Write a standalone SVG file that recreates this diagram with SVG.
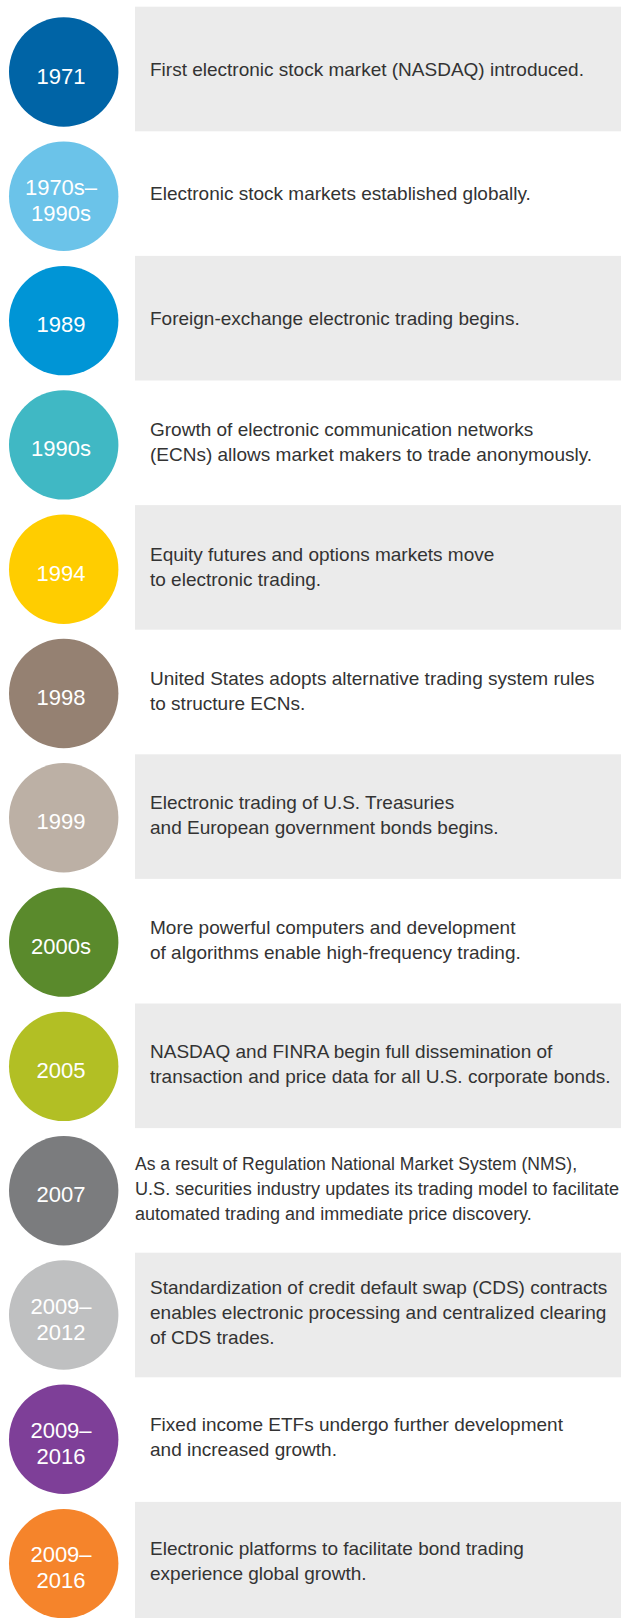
<svg xmlns="http://www.w3.org/2000/svg" width="621" height="1618" viewBox="0 0 621 1618">
<style>
.band{fill:#ebebeb}
.yr{font-family:"Liberation Sans",Arial,sans-serif;font-size:22px;fill:#ffffff;text-anchor:middle}
.tx{font-family:"Liberation Sans",Arial,sans-serif;font-size:19px;fill:#333333}
.tx2{font-family:"Liberation Sans",Arial,sans-serif;font-size:18px;fill:#333333}
</style>
<rect width="621" height="1618" fill="#ffffff"/>
<g id="bands">
<rect class="band" x="135" y="6.7" width="486" height="124.6"/>
<rect class="band" x="135" y="255.9" width="486" height="124.6"/>
<rect class="band" x="135" y="505.1" width="486" height="124.6"/>
<rect class="band" x="135" y="754.3" width="486" height="124.6"/>
<rect class="band" x="135" y="1003.5" width="486" height="124.6"/>
<rect class="band" x="135" y="1252.7" width="486" height="124.6"/>
<rect class="band" x="135" y="1501.9" width="486" height="124.6"/>
</g>
<g id="connectors"></g>
<g id="n1971">
<circle cx="63.7" cy="72" r="54.7" fill="#0064a6"/>
<text class="yr" x="61" y="83.5">1971</text>
<text class="tx" x="150" y="76">First electronic stock market (NASDAQ) introduced.</text>
</g>
<g id="n1970s">
<circle cx="63.7" cy="196.3" r="54.7" fill="#6bc3e9"/>
<text class="yr" x="61" y="194.8">1970s–</text>
<text class="yr" x="61" y="220.8">1990s</text>
<text class="tx" x="150" y="200.3">Electronic stock markets established globally.</text>
</g>
<g id="n1989">
<circle cx="63.7" cy="320.6" r="54.7" fill="#0095d6"/>
<text class="yr" x="61" y="332.1">1989</text>
<text class="tx" x="150" y="324.6">Foreign-exchange electronic trading begins.</text>
</g>
<g id="n1990s">
<circle cx="63.7" cy="444.9" r="54.7" fill="#40b8c4"/>
<text class="yr" x="61" y="456.4">1990s</text>
<text class="tx" x="150" y="436.4">Growth of electronic communication networks</text>
<text class="tx" x="150" y="461.4">(ECNs) allows market makers to trade anonymously.</text>
</g>
<g id="n1994">
<circle cx="63.7" cy="569.2" r="54.7" fill="#ffcd00"/>
<text class="yr" x="61" y="580.7">1994</text>
<text class="tx" x="150" y="560.7">Equity futures and options markets move</text>
<text class="tx" x="150" y="585.7">to electronic trading.</text>
</g>
<g id="n1998">
<circle cx="63.7" cy="693.5" r="54.7" fill="#958172"/>
<text class="yr" x="61" y="705">1998</text>
<text class="tx" x="150" y="685">United States adopts alternative trading system rules</text>
<text class="tx" x="150" y="710">to structure ECNs.</text>
</g>
<g id="n1999">
<circle cx="63.7" cy="817.8" r="54.7" fill="#bcb0a5"/>
<text class="yr" x="61" y="829.3">1999</text>
<text class="tx" x="150" y="809.3">Electronic trading of U.S. Treasuries</text>
<text class="tx" x="150" y="834.3">and European government bonds begins.</text>
</g>
<g id="n2000s">
<circle cx="63.7" cy="942.1" r="54.7" fill="#5a8a2c"/>
<text class="yr" x="61" y="953.6">2000s</text>
<text class="tx" x="150" y="933.6">More powerful computers and development</text>
<text class="tx" x="150" y="958.6">of algorithms enable high-frequency trading.</text>
</g>
<g id="n2005">
<circle cx="63.7" cy="1066.4" r="54.7" fill="#b2bf24"/>
<text class="yr" x="61" y="1077.9">2005</text>
<text class="tx" x="150" y="1057.9">NASDAQ and FINRA begin full dissemination of</text>
<text class="tx" x="150" y="1082.9">transaction and price data for all U.S. corporate bonds.</text>
</g>
<g id="n2007">
<circle cx="63.7" cy="1190.7" r="54.7" fill="#7b7c7e"/>
<text class="yr" x="61" y="1202.2">2007</text>
<text class="tx2" x="135" y="1169.7" textLength="442" lengthAdjust="spacingAndGlyphs">As a result of Regulation National Market System (NMS),</text>
<text class="tx2" x="135" y="1194.7" textLength="484" lengthAdjust="spacingAndGlyphs">U.S. securities industry updates its trading model to facilitate</text>
<text class="tx2" x="135" y="1219.7">automated trading and immediate price discovery.</text>
</g>
<g id="n2009a">
<circle cx="63.7" cy="1315" r="54.7" fill="#bfc0c1"/>
<text class="yr" x="61" y="1313.5">2009–</text>
<text class="yr" x="61" y="1339.5">2012</text>
<text class="tx" x="150" y="1294">Standardization of credit default swap (CDS) contracts</text>
<text class="tx" x="150" y="1319">enables electronic processing and centralized clearing</text>
<text class="tx" x="150" y="1344">of CDS trades.</text>
</g>
<g id="n2009b">
<circle cx="63.7" cy="1439.3" r="54.7" fill="#7e3f98"/>
<text class="yr" x="61" y="1437.8">2009–</text>
<text class="yr" x="61" y="1463.8">2016</text>
<text class="tx" x="150" y="1430.8">Fixed income ETFs undergo further development</text>
<text class="tx" x="150" y="1455.8">and increased growth.</text>
</g>
<g id="n2009c">
<circle cx="63.7" cy="1563.6" r="54.7" fill="#f5842b"/>
<text class="yr" x="61" y="1562.1">2009–</text>
<text class="yr" x="61" y="1588.1">2016</text>
<text class="tx" x="150" y="1555.1">Electronic platforms to facilitate bond trading</text>
<text class="tx" x="150" y="1580.1">experience global growth.</text>
</g>
</svg>
